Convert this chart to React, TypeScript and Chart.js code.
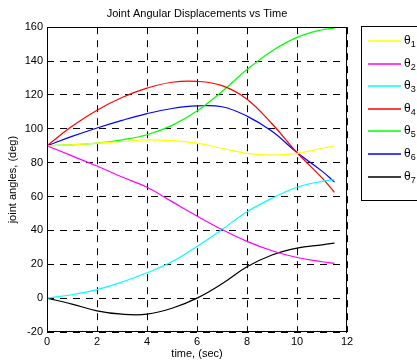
import React, { useEffect, useRef } from "react";
import { Chart, registerables } from "chart.js";

Chart.register(...registerables);

const times = [0, 1, 2, 3, 4, 5, 6, 7, 8, 9, 10, 11, 11.5];
const theta1 = [90, 90.5, 91.5, 92.5, 93.5, 93, 91.5, 88.5, 85.5, 84.5, 85.5, 88.5, 90];
const theta2 = [90, 84, 78, 71.5, 65.5, 57, 48.5, 40.5, 33.5, 28, 24, 21.5, 20.5];
const theta3 = [0, 2, 5, 9.5, 15, 21.5, 30.5, 40.5, 51, 59, 65.5, 69, 70];
const theta4 = [90, 101.5, 111, 118.5, 124, 127.5, 128, 125.5, 117.5, 103, 86, 71, 62.5];
const theta5 = [90, 90.5, 91.5, 93.5, 96.5, 102, 110.5, 122, 135, 146, 154, 158.5, 159.5];
const theta6 = [90, 95.5, 100.5, 105, 109, 112, 113.5, 113, 107.5, 98.5, 86, 75, 68.5];
const theta7 = [0, -3.5, -7.5, -9.5, -9.5, -6, 0, 8.5, 18.5, 25.5, 29.5, 31.5, 32.5];

const seriesValues = [theta1, theta2, theta3, theta4, theta5, theta6, theta7];
const seriesSubscripts = ["1", "2", "3", "4", "5", "6", "7"];
const seriesColors = ["#ffff00", "#ff00ff", "#00ffff", "#ff0000", "#00ff00", "#0000ff", "#000000"];

const titleText = "Joint Angular Displacements vs Time";
const xTitle = "time, (sec)";
const yTitle = "joint angles, (deg)";

const FONT = "'Liberation Sans', Arial, Helvetica, sans-serif";

const framePlugin = {
  id: "frameAndLegend",
  afterDraw(chart: any) {
    const ctx = chart.ctx as CanvasRenderingContext2D;
    const { left, right, top, bottom } = chart.chartArea;
    ctx.save();
    ctx.setLineDash([]);
    ctx.strokeStyle = "#000";
    ctx.lineWidth = 1;
    const l = Math.round(left) + 0.5;
    const t = Math.round(top) + 0.5;
    const r = Math.round(right) - 0.5;
    const b = Math.round(bottom) - 0.5;
    ctx.strokeRect(l, t, r - l, b - t);

    // legend box
    const boxL = 361.5;
    const boxT = 26.5;
    ctx.strokeRect(boxL, boxT, 80, 174);
    const y0 = 41;
    const dy = 22.6;
    for (let i = 0; i < seriesSubscripts.length; i++) {
      const y = Math.round(y0 + i * dy);
      ctx.strokeStyle = seriesColors[i];
      ctx.lineWidth = 1.6;
      ctx.beginPath();
      ctx.moveTo(368, y);
      ctx.lineTo(401, y);
      ctx.stroke();
      ctx.fillStyle = "#000";
      ctx.textBaseline = "middle";
      ctx.textAlign = "left";
      ctx.font = `12px ${FONT}`;
      ctx.fillText("θ", 404, y);
      const w = ctx.measureText("θ").width;
      ctx.font = `9px ${FONT}`;
      ctx.fillText(seriesSubscripts[i], 404 + w, y + 4);
    }
    ctx.restore();
  },
};

export default function App() {
  const ref = useRef<HTMLCanvasElement | null>(null);
  useEffect(() => {
    if (!ref.current) return;
    const datasets = seriesValues.map((vals, i) => ({
      label: "θ" + seriesSubscripts[i],
      data: vals.map((v, j) => ({ x: times[j], y: v })),
      borderColor: seriesColors[i],
      backgroundColor: seriesColors[i],
      borderWidth: 1.2,
      pointRadius: 0,
      fill: false,
      tension: 0.4,
    }));
    const chart = new Chart(ref.current, {
      type: "line",
      data: { datasets },
      options: {
        responsive: false,
        animation: false,
        layout: { padding: { left: 0, right: 70, top: 0, bottom: 0 } },
        plugins: {
          legend: { display: false },
          tooltip: { enabled: false },
          title: {
            display: true,
            text: titleText,
            fullSize: false,
            color: "#000",
            font: { family: FONT, size: 11, weight: "normal" as any },
            padding: { top: 7, bottom: 7 },
          },
        },
        scales: {
          x: {
            type: "linear",
            min: 0,
            max: 12,
            afterFit: (s: any) => {
              s.height = 32;
            },
            ticks: { stepSize: 2, color: "#000", font: { family: FONT, size: 11 }, padding: 3 },
            grid: { color: "#000", lineWidth: 1, drawTicks: false },
            border: { display: false, dash: [7, 6] },
            title: {
              display: true,
              text: xTitle,
              color: "#000",
              font: { family: FONT, size: 11 },
              padding: { top: 0, bottom: 3 },
            },
          },
          y: {
            type: "linear",
            min: -20,
            max: 160,
            afterFit: (s: any) => {
              s.width = 47;
            },
            ticks: { stepSize: 20, color: "#000", font: { family: FONT, size: 11 }, padding: 4 },
            grid: { color: "#000", lineWidth: 1, drawTicks: false },
            border: { display: false, dash: [7, 6] },
            title: {
              display: true,
              text: yTitle,
              color: "#000",
              font: { family: FONT, size: 11 },
              padding: { top: 6, bottom: 0 },
            },
          },
        },
      },
      plugins: [framePlugin],
    });
    return () => chart.destroy();
  }, []);
  return (
    <div style={{ position: "absolute", left: 0, top: 0, width: 417, height: 364, background: "#fff" }}>
      <canvas ref={ref} width={417} height={364} style={{ display: "block", width: 417, height: 364 }} />
    </div>
  );
}
